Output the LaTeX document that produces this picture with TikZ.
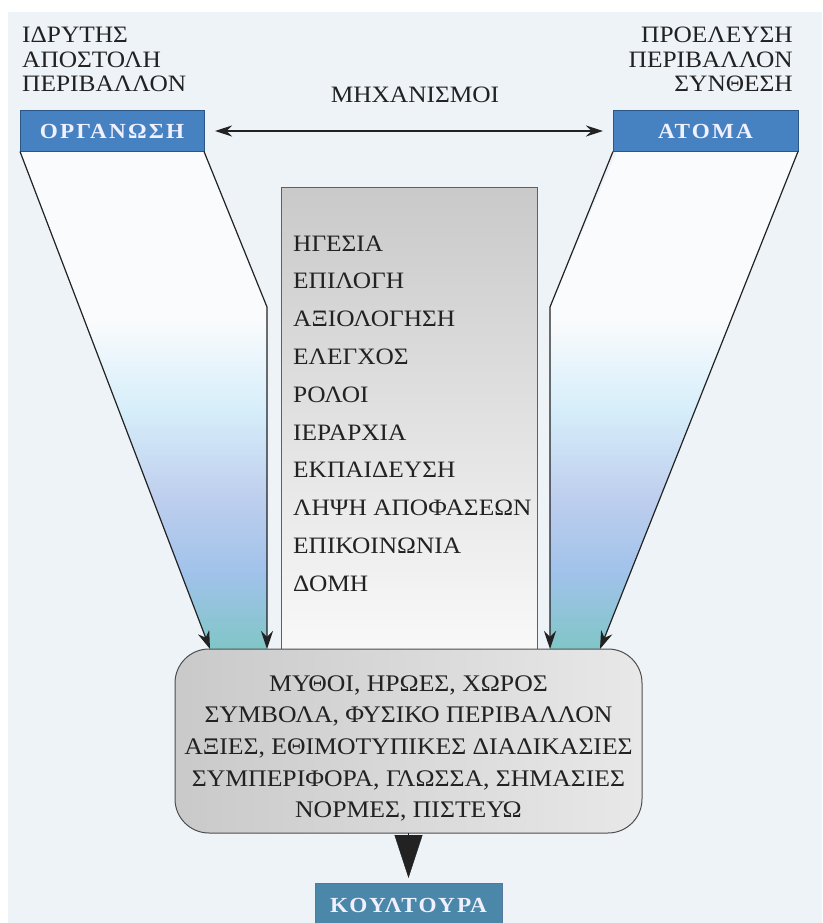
\documentclass[tikz,border=0pt]{standalone}
\usepackage{fontspec}
\setmainfont{Liberation Serif}[FakeStretch=1.08]
\newfontfamily\boxfont{Liberation Serif Bold}[FakeStretch=1.08, LetterSpace=10]
\usetikzlibrary{arrows.meta}

\definecolor{paper}{HTML}{EEF3F8}
\definecolor{ink}{HTML}{222222}
\definecolor{boxblue}{HTML}{4682C2}
\definecolor{boxteal}{HTML}{4B87A8}
\definecolor{boxedge}{HTML}{2C5686}
\definecolor{skyA}{HTML}{D6EEFA}
\definecolor{skyB}{HTML}{BFCFEE}
\definecolor{skyC}{HTML}{A0C2EA}
\definecolor{skyD}{HTML}{80C6C6}

\tikzset{
  txt/.style={text=ink, inner sep=0pt, font=\fontsize{23.5}{26}\selectfont},
  bluebox/.style={draw=boxedge, line width=1pt, fill=boxblue, text=white!94!blue,
    minimum height=41pt, outer sep=0pt, inner sep=0pt,
    font=\boxfont\fontsize{21.5}{24}\selectfont},
  flow/.style={draw=ink, line width=1.2pt, -{Stealth[length=18pt,width=12pt]}},
}

\begin{document}
\begin{tikzpicture}[x=1pt,y=-1pt]
\useasboundingbox (0,0) rectangle (822,923);
\fill[white] (0,0) rectangle (822,923);
\fill[paper] (8,12) rectangle (822,923);

% coloured fill inside the two funnels
\begin{scope}
  \clip (20,151) -- (204,151) -- (267,307) -- (267,649) -- (210,649) -- cycle
        (617,151) -- (798,151) -- (600,649) -- (550,649) -- (550,307) -- cycle;
  \fill[white!70!paper] (0,150) rectangle (822,320);
  \shade[top color=white!70!paper, bottom color=skyA] (0,319) rectangle (822,410);
  \shade[top color=skyA, bottom color=skyB] (0,409) rectangle (822,495);
  \shade[top color=skyB, bottom color=skyC] (0,494) rectangle (822,575);
  \shade[top color=skyC, bottom color=skyD] (0,574) rectangle (822,650);
\end{scope}

% side captions
\foreach \t [count=\i] in {ΙΔΡΥΤΗΣ, ΑΠΟΣΤΟΛΗ, ΠΕΡΙΒΑΛΛΟΝ}
  \node[txt, anchor=base west] (org\i) at (22, 43 + 24.5*\i - 24.5) {\t};
\foreach \t [count=\i] in {ΠΡΟΕΛΕΥΣΗ, ΠΕΡΙΒΑΛΛΟΝ, ΣΥΝΘΕΣΗ}
  \node[txt, anchor=base east] (atm\i) at (793, 43 + 24.5*\i - 24.5) {\t};

% top boxes
\node[bluebox, minimum width=184pt] (orga) at (112,131) {ΟΡΓΑΝΩΣΗ};
\node[bluebox, minimum width=185pt] (atoma) at (705.5,131) {ΑΤΟΜΑ};

% mechanisms
\node[txt, anchor=base] (mechlabel) at (415,102.5) {ΜΗΧΑΝΙΣΜΟΙ};
\draw[draw=ink, line width=1.4pt, {Stealth[length=17pt,width=11pt]}-{Stealth[length=17pt,width=11pt]},
      shorten <=11pt, shorten >=10pt] (orga) -- (atoma);

% central column
\node[draw=gray!75!black, line width=0.8pt, top color=gray!42, bottom color=gray!5,
      minimum width=256pt, minimum height=463pt, anchor=north west, outer sep=0pt]
      (mech) at (281,187) {};
\foreach \t [count=\i] in {ΗΓΕΣΙΑ, ΕΠΙΛΟΓΗ, ΑΞΙΟΛΟΓΗΣΗ, ΕΛΕΓΧΟΣ, ΡΟΛΟΙ, ΙΕΡΑΡΧΙΑ,
    ΕΚΠΑΙΔΕΥΣΗ, ΛΗΨΗ ΑΠΟΦΑΣΕΩΝ, ΕΠΙΚΟΙΝΩΝΙΑ, ΔΟΜΗ}
  \node[txt, anchor=base west] (m\i) at (293, 251 + 37.8*\i - 37.8) {\t};

% funnel end points
\coordinate (Lk) at (267,307);
\coordinate (Lo) at (210,649);
\coordinate (Li) at (267,649);
\coordinate (Rk) at (550,307);
\coordinate (Ri) at (550,649);
\coordinate (Ro) at (600,649);

% culture box
\node[draw=ink!80, line width=1pt, rounded corners=34pt, left color=gray!42, right color=gray!18,
      minimum width=467pt, minimum height=184pt, outer sep=0pt] (cult) at (408.5,741) {};
\foreach \t [count=\i] in {{ΜΥΘΟΙ, ΗΡΩΕΣ, ΧΩΡΟΣ}, {ΣΥΜΒΟΛΑ, ΦΥΣΙΚΟ ΠΕΡΙΒΑΛΛΟΝ},
    {ΑΞΙΕΣ, ΕΘΙΜΟΤΥΠΙΚΕΣ ΔΙΑΔΙΚΑΣΙΕΣ}, {ΣΥΜΠΕΡΙΦΟΡΑ, ΓΛΩΣΣΑ, ΣΗΜΑΣΙΕΣ}, {ΝΟΡΜΕΣ, ΠΙΣΤΕΥΩ}}
  \node[txt, anchor=base, font=\fontsize{23.8}{26}\selectfont] (c\i) at (408.5, 691 + 31.7*\i - 31.7) {\t};

% funnel arrows
\draw[flow] (orga.south west) -- (Lo);
\draw[flow] (orga.south east) -- (Lk) -- (Li);
\draw[flow] (atoma.south west) -- (Rk) -- (Ri);
\draw[flow] (atoma.south east) -- (Ro);

% result box
\node[bluebox, fill=boxteal, draw=boxedge!80, minimum width=187pt, minimum height=44pt]
  (koul) at (408.5,905) {ΚΟΥΛΤΟΥΡΑ};
\draw[draw=ink, line width=0.4pt, -{Triangle[length=43pt,width=28pt]}, shorten >=5pt]
  (cult.south) -- (koul.north);
\end{tikzpicture}
\end{document}
